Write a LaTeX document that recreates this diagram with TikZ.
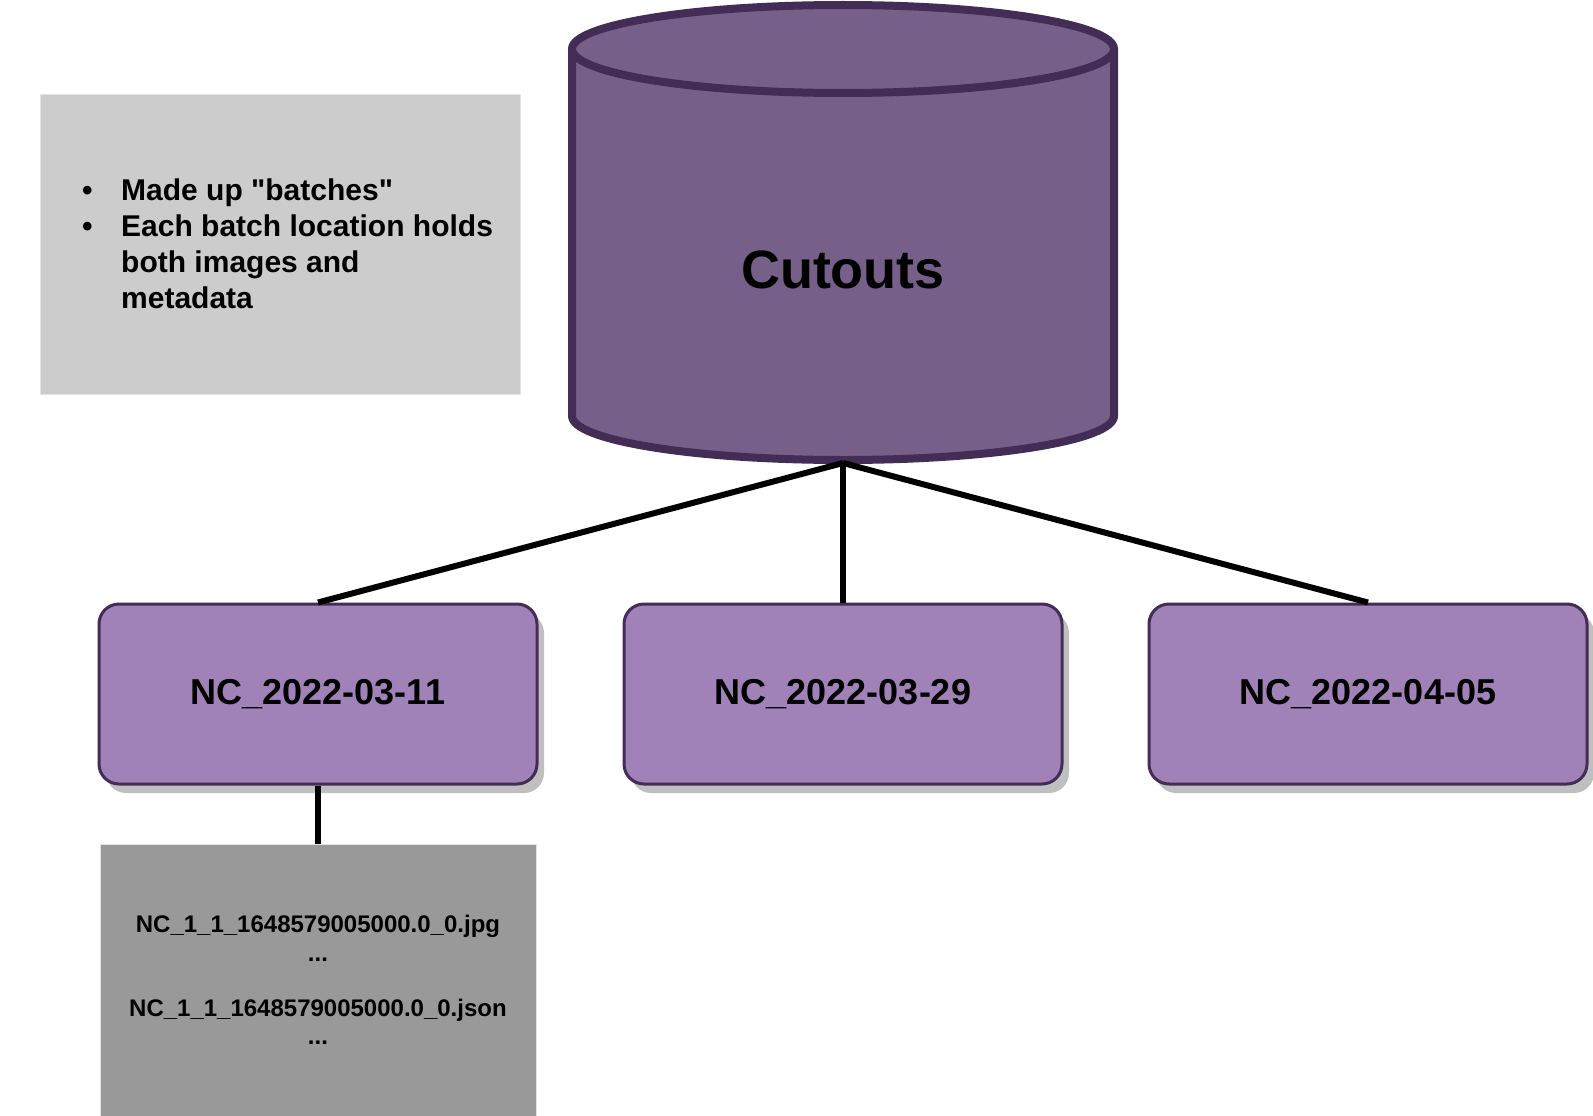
\documentclass[tikz,border=0pt]{standalone}
\usepackage{fontspec}
\setmainfont{Liberation Sans}[Ligatures=TeXOff]
\usepackage{xcolor}
\usepackage{tikz}
\usetikzlibrary{shadows}

\definecolor{dbfill}{HTML}{76608A}
\definecolor{dbline}{HTML}{432D57}
\definecolor{batchfill}{HTML}{A082B8}
\definecolor{notegray}{HTML}{CCCCCC}
\definecolor{filegray}{HTML}{999999}
\definecolor{edgegray}{HTML}{E3E3E3}

\begin{document}
\begin{tikzpicture}[x=1pt, y=-1pt,
    batch/.style={draw=dbline, line width=3pt, fill=batchfill, rounded corners=20pt, minimum width=438pt, minimum height=180pt, font=\fontsize{36}{42}\selectfont\bfseries,
        drop shadow={shadow xshift=7pt, shadow yshift=-9pt, fill=black!25, opacity=1}},
    notebox/.style={draw=edgegray, line width=1pt, fill=notegray, minimum width=480pt, minimum height=300pt},
    notetext/.style={inner sep=0pt, align=left, font=\fontsize{30}{36}\selectfont\bfseries},
    filebox/.style={draw=edgegray, line width=1pt, fill=filegray, minimum width=436pt, minimum height=272pt, align=center, font=\fontsize{24}{28.5}\selectfont\bfseries},
    link/.style={line width=6pt, black},
]

\useasboundingbox (0,0) rectangle (1593,1116);

\fill[dbfill] (572,49) -- (572,416) arc[start angle=180, end angle=0, x radius=271, y radius=44] -- (1114,49) arc[start angle=0, end angle=-180, x radius=271, y radius=44] -- cycle;
\draw[dbline, line width=8pt, line join=round] (572,49) -- (572,416) arc[start angle=180, end angle=0, x radius=271, y radius=44] -- (1114,49);
\draw[dbline, line width=8pt, fill=dbfill] (843,49) ellipse[x radius=271, y radius=44];
\node[font=\fontsize{54}{64}\selectfont\bfseries] (cutouts) at (843,270) {Cutouts};
\coordinate (dbbase) at (843,463);

\node[notebox] (notes) at (280,244) {};
\node[notetext, anchor=west] (notestext) at (82,244) {\makebox[39pt][l]{\textbullet}Made up "batches"\\
    \makebox[39pt][l]{\textbullet}Each batch location holds\\
    \hspace*{39pt}both images and\\
    \hspace*{39pt}metadata};

\node[batch] (b1) at (318,694) {NC\_2022-03-11};
\node[batch] (b2) at (843,694) {NC\_2022-03-29};
\node[batch] (b3) at (1368,694) {NC\_2022-04-05};

\node[filebox] (files) at (318,980) {NC\_1\_1\_1648579005000.0\_0.jpg\\...\\[26.5pt]NC\_1\_1\_1648579005000.0\_0.json\\...};

\draw[link] (dbbase) -- (b1.north);
\draw[link] (dbbase) -- (b2.north);
\draw[link] (dbbase) -- (b3.north);
\draw[link] (b1.south) -- (files.north);

\end{tikzpicture}
\end{document}
